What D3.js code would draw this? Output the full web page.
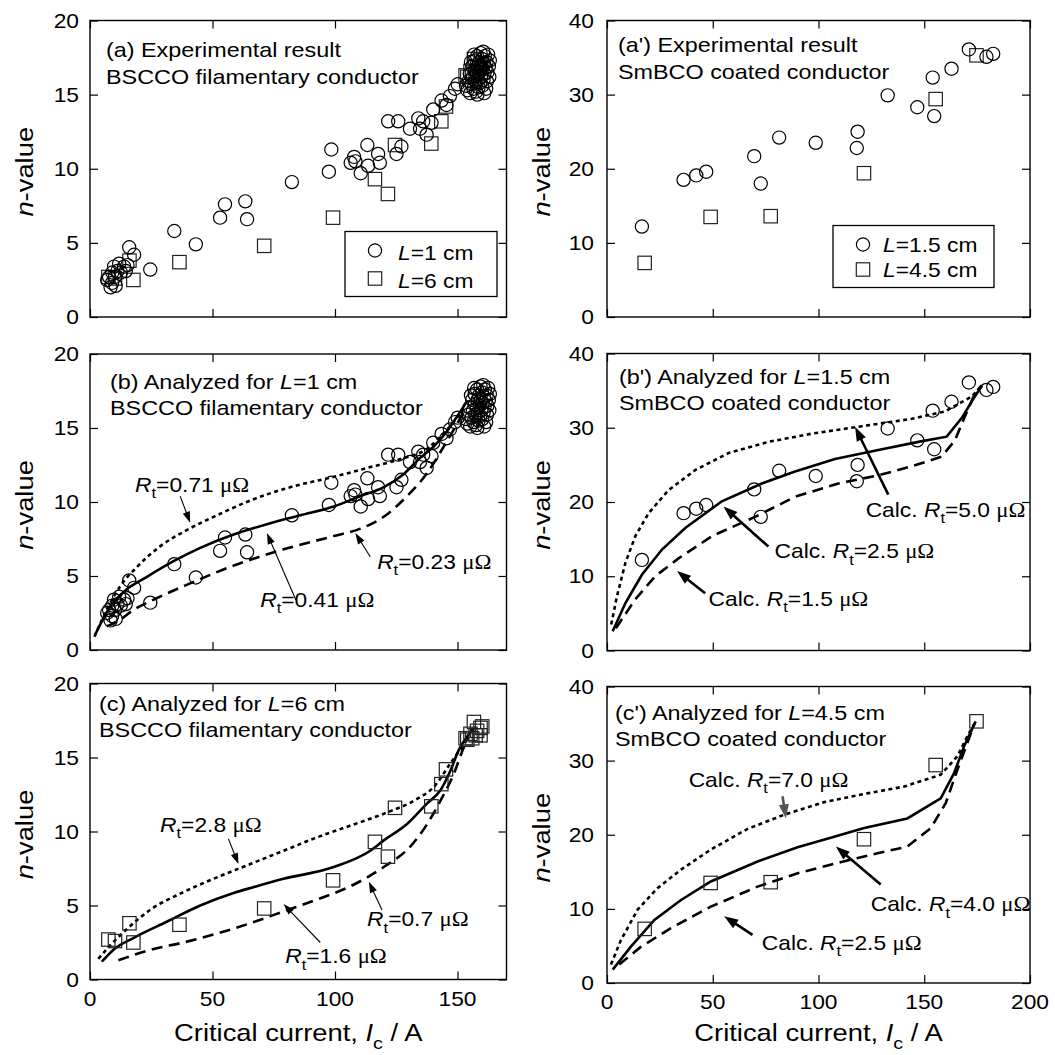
<!DOCTYPE html>
<html>
<head>
<meta charset="utf-8">
<script src="https://cdn.jsdelivr.net/npm/d3@7"></script>
<style>
  body { margin: 0; background: #fff; }
  text { font-family: "Liberation Sans", Arial, sans-serif; fill: #000; }
</style>
</head>
<body>
<svg id="fig" width="1055" height="1055"></svg>
<script>
// ---- tick values ----
var xTicksBscco = [0, 50, 100, 150];
var yTicksBscco = [0, 5, 10, 15, 20];
var xTicksSmbco = [0, 50, 100, 150, 200];
var yTicksSmbco = [0, 10, 20, 30, 40];

// ---- measured points [Ic (A), n-value] ----
var bsccoL1 = [ // L = 1 cm, circles
  [7.0,2.5],[7.8,2.7],[8.4,2.0],[9.1,3.0],[9.0,2.3],[9.8,3.4],[10.5,2.1],[10.2,2.7],[11.2,3.1],
  [11.9,3.6],[12.6,3.0],[13.9,3.4],[14.6,3.1],[15.3,3.5],[16.0,4.7],[18.0,4.2],[24.6,3.2],
  [34.4,5.8],[43.2,4.9],[53.1,6.7],[55.1,7.6],[63.4,7.8],[64.1,6.6],[82.4,9.1],[97.5,9.8],
  [98.5,11.3],[106.4,10.4],[107.8,10.8],[108.3,10.5],[110.5,9.7],[113.2,11.6],[113.5,10.2],
  [117.6,11.0],[118.3,10.4],[121.7,13.2],[125.8,13.2],[125.1,11.0],[127.1,11.5],[130.6,12.7],
  [134.0,13.4],[134.7,12.7],[137.4,12.3],[136.0,13.2],[139.4,13.1],[140.1,14.0],[143.5,14.6],
  [145.5,14.3],[146.9,14.9],[149.0,15.4],[150.1,15.7],
  [153.5,15.6],[154.0,15.3],[154.5,15.9],[155.0,16.4],[155.2,15.1],[155.5,17.2],[155.8,15.7],
  [156.0,16.9],[156.3,16.2],[156.5,15.4],[156.8,17.7],[157.0,17.3],[157.1,16.6],[157.3,15.9],
  [157.6,15.2],[157.8,16.3],[158.0,17.6],[158.1,15.0],[158.2,16.9],[158.4,16.0],[158.6,15.5],
  [158.8,17.2],[159.0,16.5],[159.2,15.8],[159.4,17.8],[159.5,16.9],[159.7,16.2],[160.0,17.4],
  [160.1,15.6],[160.3,16.7],[160.5,17.9],[160.6,16.0],[160.8,17.1],[160.9,15.1],[161.0,16.4],
  [161.2,17.6],[161.5,16.8],[161.7,15.4],[161.9,17.2],[162.0,15.9],[162.2,16.5],[162.5,17.7],
  [162.8,16.9],[163.0,16.2],[163.2,17.3]
];
var bsccoL6 = [ // L = 6 cm, squares
  [7.5,2.7],[10.2,2.6],[16.1,3.8],[17.7,2.5],[36.5,3.7],[71.1,4.8],[99.2,6.7],[116.3,9.3],
  [121.6,8.3],[124.5,11.6],[139.3,11.7],[143.4,13.2],[145.3,14.2],[153.3,16.3],[154.0,16.2],
  [155.3,16.6],[156.0,16.3],[156.7,17.4],[157.4,16.5],[158.0,16.8],[159.4,17.0],[159.4,16.5],
  [160.1,17.1]
];
var smbcoL15 = [ // L = 1.5 cm, circles
  [16.5,12.2],[36.2,18.5],[42.2,19.1],[46.9,19.6],[69.6,21.7],[72.7,18.0],[81.4,24.2],
  [98.7,23.5],[118.5,25.0],[118.1,22.8],[132.7,29.9],[146.7,28.3],[154.0,32.3],[154.7,27.1],
  [162.9,33.5],[171.1,36.1],[179.4,35.1],[182.6,35.5]
];
var smbcoL45 = [ // L = 4.5 cm, squares
  [17.8,7.3],[49.0,13.5],[77.4,13.6],[121.5,19.4],[155.4,29.4],[174.7,35.3]
];

// ---- calculated curves [Ic, n] ----
var bsccoL1Rt071 = [[1.8,0.9],[6.8,2.7],[12.3,4.3],[19.1,5.6],[28.6,7.0],[39.5,8.1],[51.8,9.1],[65.4,10.1],[81.7,11.0],[99.5,11.7],[113.1,12.3],[126.7,12.9],[137.6,13.6],[145.8,14.9],[152.6,16.3]];
var bsccoL1Rt041 = [[2.0,1.0],[8.2,2.9],[15.0,4.1],[21.8,4.8],[34.1,6.0],[45.0,6.9],[58.6,7.8],[72.2,8.5],[85.8,9.1],[99.5,9.7],[110.4,10.4],[119.9,11.0],[128.1,11.9],[134.9,13.0],[140.3,13.75],[145.8,14.8],[149.9,15.8],[153.9,16.8]];
var bsccoL1Rt023 = [[6.8,1.6],[10.9,1.9],[17.7,2.7],[27.2,3.5],[40.9,4.5],[58.6,5.7],[79.0,6.8],[99.5,7.7],[110.4,8.2],[119.9,9.0],[129.4,10.4],[137.6,11.95],[144.4,13.75],[149.9,15.3],[153.3,16.3]];
var bsccoL6Rt28 = [[3.4,1.4],[8.2,2.3],[15.0,3.4],[24.5,4.7],[38.1,5.9],[51.8,6.9],[65.4,7.8],[79.0,8.7],[92.6,9.6],[106.3,10.4],[119.9,11.2],[133.5,12.2],[140.3,13.0],[147.1,14.6],[153.9,16.2]];
var bsccoL6Rt16 = [[4.8,1.2],[9.5,2.0],[17.7,2.8],[31.3,3.9],[45.0,5.0],[58.6,5.85],[67.0,6.25],[79.0,6.8],[99.5,7.6],[114.4,8.7],[119.9,9.4],[129.4,10.5],[137.6,11.9],[143.1,12.8],[147.1,14.1],[150.5,15.5],[153.9,16.4],[156.7,17.0]];
var bsccoL6Rt07 = [[11.6,1.3],[24.5,2.0],[38.1,2.5],[51.8,3.1],[65.4,3.8],[79.0,4.6],[92.6,5.4],[106.3,6.3],[119.9,7.6],[130.8,9.0],[137.6,10.5],[143.1,12.1],[148.5,13.9],[152.6,15.7],[154.6,16.4]];
var smbcoL15Rt50 = [[2.0,3.5],[4.7,7.3],[8.7,11.8],[13.4,15.4],[19.7,18.5],[29.1,21.6],[41.7,24.3],[57.5,26.6],[76.3,28.1],[96.8,29.2],[120.4,30.2],[144.0,31.2],[159.8,32.2],[172.4,34.2],[177.4,35.7]];
var smbcoL15Rt25 = [[2.7,2.6],[8.7,6.4],[16.5,10.2],[26.0,13.6],[37.0,16.5],[54.3,20.1],[73.2,22.5],[88.9,24.1],[107.8,25.8],[128.3,27.0],[147.2,28.1],[160.6,28.8],[167.7,31.3],[173.9,34.2],[177.4,35.7]];
var smbcoL15Rt15 = [[4.2,3.0],[13.4,6.9],[22.8,10.0],[33.8,12.4],[49.6,15.4],[70.0,18.0],[88.9,20.7],[109.4,22.5],[128.3,23.6],[144.0,24.8],[158.2,26.1],[164.5,28.3],[169.2,31.5],[173.9,34.6],[177.1,35.7]];
var smbcoL45Rt70 = [[1.9,2.5],[6.6,5.8],[14.5,9.9],[23.9,12.8],[35.0,15.3],[49.1,18.0],[66.5,20.8],[83.8,22.7],[102.7,24.4],[121.6,25.5],[140.5,26.5],[157.8,28.1],[165.7,30.6],[170.4,33.3],[174.3,35.3]];
var smbcoL45Rt40 = [[2.7,1.8],[11.3,4.9],[22.4,8.5],[35.0,11.2],[49.1,13.7],[71.2,16.4],[90.1,18.3],[105.8,19.6],[121.6,20.9],[142.0,22.2],[157.8,24.9],[164.1,28.3],[168.8,31.9],[174.3,35.3]];
var smbcoL45Rt25 = [[5.8,2.5],[16.1,4.9],[30.2,7.4],[49.1,10.3],[71.2,13.0],[90.1,14.8],[109.0,16.2],[127.9,17.5],[142.0,18.4],[153.1,20.9],[160.2,24.3],[165.7,28.8],[170.4,32.4],[173.5,34.8]];

var SX = 1.14; // the original lettering is a bit wider than Arial
var svg = d3.select("#fig");

function txt(g, x, y, parts, size, anchor, rot) {
  var tr = "translate(" + x + "," + y + ")" + (rot ? " rotate(" + rot + ")" : "") + " scale(" + SX + ",1)";
  var t = g.append("text").attr("transform", tr)
    .attr("font-size", size).attr("text-anchor", anchor || "start");
  var shift = 0;
  parts.forEach(function(p) {
    if (typeof p === "string") p = {t: p};
    var s = t.append("tspan").text(p.t);
    var want = p.sub ? size * 0.32 : 0;
    if (want !== shift) s.attr("dy", want - shift);
    shift = want;
    if (p.sub) s.attr("font-size", size * 0.72);
    if (p.i) s.attr("font-style", "italic");
    if (p.serif) s.attr("font-family", "'Liberation Serif', 'Times New Roman', serif");
  });
  return t;
}

function rtLabel(val, calc) {
  var a = calc ? ["Calc. "] : [];
  return a.concat([{t: "R", i: 1}, {t: "t", sub: 1}, "=" + val + " ", {t: "\u03bc\u03a9", serif: 1}]);
}

var styles = {
  solid:  {w: 2.6, dash: null},
  dotted: {w: 2.6, dash: "4,3.5"},
  dashed: {w: 2.6, dash: "11,6.5"}
};
var arrowStyles = {
  thin:  {w: 1.1, len: 11, wid: 7.5, color: "#000"},
  thick: {w: 2.6, len: 14, wid: 10, color: "#000"},
  gray:  {w: 2.6, len: 14, wid: 10, color: "#555"}
};

var panels = [
  { left: 90, right: 506.5, top: 20.5, bottom: 317, xDom: [0, 170], yDom: [0, 20],
    xTicks: xTicksBscco, yTicks: yTicksBscco, xLabels: false, yPad: 11, ylx: 33,
    title: [["(a) Experimental result"], ["BSCCO filamentary conductor"]], tdx: 16, tdy: [36, 63],
    circles: bsccoL1, squares: bsccoL6, curves: [],
    legend: {x: 255, y: 211, w: 152, h: 65, sx: 285, sy: [230, 258], tx: 308, ty: [239.5, 267],
             labels: ["=1 cm", "=6 cm"]} },
  { left: 607, right: 1030, top: 20.5, bottom: 317, xDom: [0, 200], yDom: [0, 40],
    xTicks: xTicksSmbco, yTicks: yTicksSmbco, xLabels: false, yPad: 13, ylx: 550,
    title: [["(a') Experimental result"], ["SmBCO coated conductor"]], tdx: 11, tdy: [31, 58],
    circles: smbcoL15, squares: smbcoL45, curves: [],
    legend: {x: 226, y: 205, w: 161, h: 62, sx: 256, sy: [224, 249], tx: 276, ty: [231.5, 256.5],
             labels: ["=1.5 cm", "=4.5 cm"]} },
  { left: 90, right: 506.5, top: 354, bottom: 650, xDom: [0, 170], yDom: [0, 20],
    xTicks: xTicksBscco, yTicks: yTicksBscco, xLabels: false, yPad: 11, ylx: 33,
    title: [["(b) Analyzed for ", {t: "L", i: 1}, "=1 cm"], ["BSCCO filamentary conductor"]], tdx: 20, tdy: [34.5, 61],
    circles: bsccoL1, squares: [], curve: d3.curveMonotoneX,
    curves: [[bsccoL1Rt071, "dotted"], [bsccoL1Rt041, "solid"], [bsccoL1Rt023, "dashed"]],
    notes: [
      {label: rtLabel("0.71"), at: [18.4, 10.7], from: [36.8, 10.4], to: [40.9, 8.6], arrow: "thin"},
      {label: rtLabel("0.41"), at: [69.5, 2.9], from: [84.0, 3.4], to: [72.2, 7.9], arrow: "thin"},
      {label: rtLabel("0.23"), at: [117.2, 5.5], from: [114.4, 6.3], to: [108.3, 7.9], arrow: "thin"}
    ] },
  { left: 607, right: 1030, top: 353.5, bottom: 650.5, xDom: [0, 200], yDom: [0, 40],
    xTicks: xTicksSmbco, yTicks: yTicksSmbco, xLabels: false, yPad: 13, ylx: 550,
    title: [["(b') Analyzed for ", {t: "L", i: 1}, "=1.5 cm"], ["SmBCO coated conductor"]], tdx: 12, tdy: [30, 56.5],
    circles: smbcoL15, squares: [], curve: d3.curveLinear,
    curves: [[smbcoL15Rt50, "dotted"], [smbcoL15Rt25, "solid"], [smbcoL15Rt15, "dashed"]],
    notes: [
      {label: rtLabel("5.0", 1), at: [122.3, 18.0], from: [133.0, 21.0], to: [117.3, 30.1], arrow: "thick"},
      {label: rtLabel("2.5", 1), at: [79.2, 12.4], from: [76.3, 14.0], to: [55.1, 19.4], arrow: "thick"},
      {label: rtLabel("1.5", 1), at: [48.0, 6.0], from: [46.4, 7.7], to: [33.1, 10.7], arrow: "thick"}
    ] },
  { left: 90, right: 506.5, top: 683.5, bottom: 979.5, xDom: [0, 170], yDom: [0, 20],
    xTicks: xTicksBscco, yTicks: yTicksBscco, xLabels: true, yPad: 11, ylx: 33,
    title: [["(c) Analyzed for ", {t: "L", i: 1}, "=6 cm"], ["BSCCO filamentary conductor"]], tdx: 9, tdy: [27, 53],
    circles: [], squares: bsccoL6, curve: d3.curveMonotoneX,
    curves: [[bsccoL6Rt28, "dotted"], [bsccoL6Rt16, "solid"], [bsccoL6Rt07, "dashed"]],
    notes: [
      {label: rtLabel("2.8"), at: [28.6, 10.0], from: [56.5, 9.5], to: [60.6, 7.8], arrow: "thin"},
      {label: rtLabel("1.6"), at: [79.7, 1.1], from: [94.0, 2.5], to: [79.0, 5.1], arrow: "thin"},
      {label: rtLabel("0.7"), at: [113.1, 3.6], from: [119.2, 4.7], to: [113.8, 6.6], arrow: "thin"}
    ] },
  { left: 607, right: 1030, top: 686.5, bottom: 983, xDom: [0, 200], yDom: [0, 40],
    xTicks: xTicksSmbco, yTicks: yTicksSmbco, xLabels: true, yPad: 13, ylx: 550,
    title: [["(c') Analyzed for ", {t: "L", i: 1}, "=4.5 cm"], ["SmBCO coated conductor"]], tdx: 8, tdy: [33.5, 59],
    circles: [], squares: smbcoL45, curve: d3.curveLinear,
    curves: [[smbcoL45Rt70, "dotted"], [smbcoL45Rt40, "solid"], [smbcoL45Rt25, "dashed"]],
    notes: [
      {label: rtLabel("7.0", 1), at: [38.6, 26.5], from: [83.0, 25.2], to: [84.6, 22.2], arrow: "gray"},
      {label: rtLabel("4.0", 1), at: [124.7, 9.7], from: [129.4, 13.3], to: [108.2, 18.4], arrow: "thick"},
      {label: rtLabel("2.5", 1), at: [73.2, 4.5], from: [68.8, 6.5], to: [55.4, 9.0], arrow: "thick"}
    ] }
];

function drawArrow(g, p1, p2, st) {
  var dx = p2[0] - p1[0], dy = p2[1] - p1[1];
  var L = Math.sqrt(dx * dx + dy * dy), ux = dx / L, uy = dy / L;
  var bx = p2[0] - ux * st.len, by = p2[1] - uy * st.len;
  g.append("line").attr("x1", p1[0]).attr("y1", p1[1])
    .attr("x2", bx + ux * 2).attr("y2", by + uy * 2)
    .attr("stroke", st.color).attr("stroke-width", st.w);
  var nx = -uy * st.wid / 2, ny = ux * st.wid / 2;
  g.append("path")
    .attr("d", "M" + p2[0] + "," + p2[1] + "L" + (bx + nx) + "," + (by + ny) + "L" + (bx - nx) + "," + (by - ny) + "Z")
    .attr("fill", st.color);
}

panels.forEach(function(p) {
  var g = svg.append("g");
  var x = d3.scaleLinear().domain(p.xDom).range([p.left, p.right]);
  var y = d3.scaleLinear().domain(p.yDom).range([p.bottom, p.top]);

  // inward ticks on all four sides
  function ticks(axis, tx, ty) {
    g.append("g").attr("transform", "translate(" + tx + "," + ty + ")")
      .call(axis.tickSizeInner(-8).tickSizeOuter(0).tickFormat(""))
      .call(function(a) { a.select(".domain").remove(); a.selectAll("line").attr("stroke-width", 1.2); });
  }
  ticks(d3.axisBottom(x).tickValues(p.xTicks), 0, p.bottom);
  ticks(d3.axisTop(x).tickValues(p.xTicks), 0, p.top);
  ticks(d3.axisLeft(y).tickValues(p.yTicks), p.left, 0);
  ticks(d3.axisRight(y).tickValues(p.yTicks), p.right, 0);

  g.append("rect").attr("x", p.left).attr("y", p.top)
    .attr("width", p.right - p.left).attr("height", p.bottom - p.top)
    .attr("fill", "none").attr("stroke", "#000").attr("stroke-width", 1.4);

  p.yTicks.forEach(function(v) { txt(g, p.left - p.yPad, y(v) + 7, [String(v)], 20, "end"); });
  if (p.xLabels) {
    p.xTicks.forEach(function(v) { txt(g, x(v), p.bottom + 26, [String(v)], 20, "middle"); });
    txt(g, (p.left + p.right) / 2, 1041,
      ["Critical current, ", {t: "I", i: 1}, {t: "c", sub: 1}, " / A"], 24, "middle");
  }
  txt(g, p.ylx, (p.top + p.bottom) / 2 + 3, [{t: "n", i: 1}, "-value"], 24, "middle", -90);

  // title lines
  p.title.forEach(function(line, i) { txt(g, p.left + p.tdx, p.top + p.tdy[i], line, 20.5); });

  // model curves
  var line = d3.line().x(function(d) { return x(d[0]); }).y(function(d) { return y(d[1]); })
    .curve(p.curve || d3.curveLinear);
  p.curves.forEach(function(c) {
    var st = styles[c[1]];
    g.append("path").attr("d", line(c[0])).attr("fill", "none")
      .attr("stroke", "#000").attr("stroke-width", st.w)
      .attr("stroke-dasharray", st.dash);
  });

  // measured points
  g.selectAll(".sq").data(p.squares).enter().append("rect")
    .attr("x", function(d) { return x(d[0]) - 6.7; })
    .attr("y", function(d) { return y(d[1]) - 6.7; })
    .attr("width", 13.4).attr("height", 13.4)
    .attr("fill", "none").attr("stroke", "#222").attr("stroke-width", 1.2);
  g.selectAll(".ci").data(p.circles).enter().append("circle")
    .attr("cx", function(d) { return x(d[0]); })
    .attr("cy", function(d) { return y(d[1]); })
    .attr("r", 6.6)
    .attr("fill", "none").attr("stroke", "#000").attr("stroke-width", 1.2);

  // annotations
  (p.notes || []).forEach(function(n) {
    drawArrow(g, [x(n.from[0]), y(n.from[1])], [x(n.to[0]), y(n.to[1])], arrowStyles[n.arrow]);
    txt(g, x(n.at[0]), y(n.at[1]), n.label, 20);
  });

  // legend
  if (p.legend) {
    var L = p.legend;
    g.append("rect").attr("x", p.left + L.x).attr("y", p.top + L.y)
      .attr("width", L.w).attr("height", L.h)
      .attr("fill", "#fff").attr("stroke", "#000").attr("stroke-width", 1.3);
    g.append("circle").attr("cx", p.left + L.sx).attr("cy", p.top + L.sy[0]).attr("r", 6.6)
      .attr("fill", "none").attr("stroke", "#000").attr("stroke-width", 1.2);
    g.append("rect").attr("x", p.left + L.sx - 6.7).attr("y", p.top + L.sy[1] - 6.7)
      .attr("width", 13.4).attr("height", 13.4)
      .attr("fill", "none").attr("stroke", "#222").attr("stroke-width", 1.2);
    L.labels.forEach(function(s, i) {
      txt(g, p.left + L.tx, p.top + L.ty[i], [{t: "L", i: 1}, s], 20);
    });
  }
});
</script>
</body>
</html>
